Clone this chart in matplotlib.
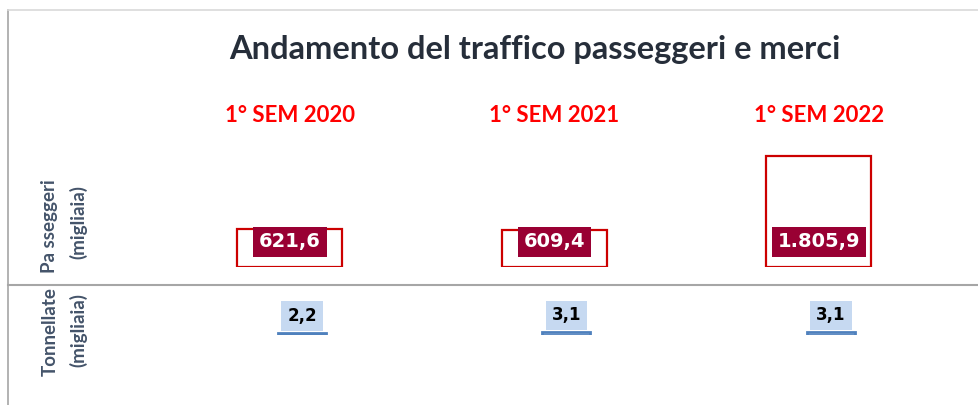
import matplotlib.pyplot as plt
from matplotlib.lines import Line2D

# ---- data ----
periodi = ['1° SEM 2020', '1° SEM 2021', '1° SEM 2022']
passeggeri = [621.6, 609.4, 1805.9]
tonnellate = [2.2, 3.1, 3.1]
lbl_pass = ['621,6', '609,4', '1.805,9']
lbl_ton = ['2,2', '3,1', '3,1']

W, H = 979, 405
fig = plt.figure(figsize=(W / 100, H / 100), dpi=100)
fig.patch.set_facecolor('white')


def box(x0, y0, x1, y1):
    # pixel coords (origin top-left) -> figure fraction rect
    return [x0 / W, 1 - y1 / H, (x1 - x0) / W, (y1 - y0) / H]


# frame lines
fig.add_artist(Line2D([8 / W, 8 / W], [0, 1 - 10 / H], color='#a6a6a6', lw=1.2))
fig.add_artist(Line2D([8 / W, 1], [1 - 10 / H, 1 - 10 / H], color='#d9d9d9', lw=1.2))
fig.add_artist(Line2D([8 / W, 1], [1 - 285 / H, 1 - 285 / H], color='#a6a6a6', lw=1.5))

fig.text(535 / W, 1 - 50 / H, 'Andamento del traffico passeggeri e merci',
         ha='center', va='center', fontsize=23.5, fontweight='bold',
         color='#262e3a', family='Lato')

x = list(range(len(periodi)))
xl = ((8 - 290) / 264.5, (979 - 290) / 264.5)

# passengers
ax = fig.add_axes(box(8, 150, 979, 267))
ax.bar(x, passeggeri, width=105 / 264.5, facecolor='none',
       edgecolor='#cc0000', lw=1.6)
ax.set_xlim(*xl)
ax.set_ylim(0, 1805.9 * 117 / 111)
ax.axis('off')
for xi, t in zip(x, lbl_pass):
    ax.annotate(t, (xi, 0), xytext=(0, 18), textcoords='offset points',
                ha='center', va='center', fontsize=14, fontweight='bold',
                color='white', family='DejaVu Sans',
                bbox=dict(boxstyle='square,pad=0.3', fc='#990033', ec='none'))
for xi, t in zip(x, periodi):
    ax.annotate(t, (xi, 1), xycoords=('data', 'axes fraction'),
                xytext=(0, 25), textcoords='offset points',
                ha='center', va='center', fontsize=16, fontweight='bold',
                color='#ff0000', family='Lato')

# freight
off = 12 / 264.5
ax2 = fig.add_axes(box(8, 300, 979, 335))
ax2.bar([xi + off for xi in x], tonnellate, width=48 / 264.5,
        facecolor='white', edgecolor='#4f81bd', lw=2)
ax2.set_xlim(*xl)
ax2.set_ylim(0, 3.1 * 35 / 3)
ax2.axis('off')
for xi, v, t in zip(x, tonnellate, lbl_ton):
    ax2.annotate(t, (xi + off, v), xytext=(0, 12), textcoords='offset points',
                 ha='center', va='center', fontsize=12, fontweight='bold',
                 color='black', family='DejaVu Sans',
                 bbox=dict(boxstyle='square,pad=0.35', fc='#c6d9f1', ec='none'))

# row labels
lab = dict(rotation=90, ha='center', va='center', fontsize=13.5,
           fontweight='bold', color='#44546a', family='Lato')
fig.text(50 / W, 1 - 226 / H, 'Pa sseggeri', **lab)
fig.text(78 / W, 1 - 222 / H, '(migliaia)', **lab)
fig.text(50 / W, 1 - 332 / H, 'Tonnellate', **lab)
fig.text(78 / W, 1 - 330 / H, '(migliaia)', **lab)

fig.savefig('out.png', dpi=100)
